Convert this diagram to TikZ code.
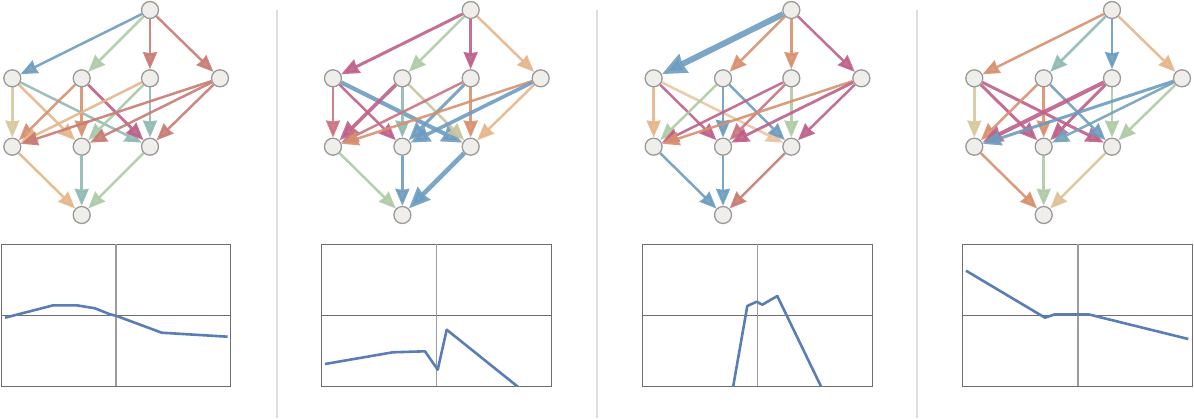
\documentclass[tikz,border=0pt]{standalone}
\usetikzlibrary{arrows.meta,backgrounds}
\definecolor{cblue}{HTML}{6D9CC0}
\definecolor{cgreen}{HTML}{AECBA5}
\definecolor{cred}{HTML}{C97B74}
\definecolor{cmag}{HTML}{BE6089}
\definecolor{corange}{HTML}{D7906F}
\definecolor{cpeach}{HTML}{E6B58A}
\definecolor{ctan}{HTML}{D6C89E}
\definecolor{cteal}{HTML}{90BAB3}
\definecolor{ckhaki}{HTML}{C8C49C}
\definecolor{cpink}{HTML}{CA7380}
\definecolor{vfill}{HTML}{F0EEEA}
\definecolor{vline}{HTML}{9A9A9A}
\definecolor{frm}{HTML}{6E6E6E}
\definecolor{axv}{HTML}{9C9C9C}
\definecolor{crv}{HTML}{5A7DB5}
\definecolor{sep}{HTML}{DEDEDE}
\tikzset{
  vtx/.style={circle,draw=vline,fill=vfill,line width=1.3pt,minimum size=17pt,inner sep=0pt},
  ar/.style={line width=2.5pt,opacity=0.9,-{Stealth[length=12pt 2,width=10pt 1.6,inset=1pt]}},
  frame/.style={draw=frm,line width=1pt},
  crvs/.style={draw=crv,line width=2.6pt,line join=round},
}
\newcommand{\mkgraph}[2]{%
  \node[vtx] (#1T) at (#2+150,10) {};
  \node[vtx] (#1A1) at (#2+12.3,78.3) {};
  \node[vtx] (#1A2) at (#2+81.7,78.3) {};
  \node[vtx] (#1A3) at (#2+150,78.3) {};
  \node[vtx] (#1A4) at (#2+220,78.3) {};
  \node[vtx] (#1B1) at (#2+12.3,146.7) {};
  \node[vtx] (#1B2) at (#2+81.7,146.7) {};
  \node[vtx] (#1B3) at (#2+150,146.7) {};
  \node[vtx] (#1C) at (#2+81.7,215) {};
}
\newcommand{\mkplot}[4]{% left right midx curve
  \draw[frame] (#1,244.3) rectangle (#2,386);
  \draw[draw=frm,line width=1pt] (#1,315.3) -- (#2,315.3);
  \draw[draw=axv,line width=1.2pt] (#3,244.3) -- (#3,386);
  \begin{scope}
    \clip (#1,244.3) rectangle (#2,386);
    \draw[crvs] #4;
  \end{scope}
}
\begin{document}
\begin{tikzpicture}[x=1pt,y=-1pt]
\useasboundingbox (0,0) rectangle (1194,418);
% separators
\draw[sep,line width=2pt] (276.7,10) -- (276.7,418);
\draw[sep,line width=2pt] (597,10) -- (597,418);
\draw[sep,line width=2pt] (917,10) -- (917,418);

\mkgraph{a}{0}
\mkgraph{b}{320.67}
\mkgraph{c}{641.33}
\mkgraph{d}{962}

\begin{scope}[on background layer]
% panel 1
\draw[ar,cblue] (aT) -- (aA1);
\draw[ar,cgreen] (aT) -- (aA2);
\draw[ar,cred] (aT) -- (aA3);
\draw[ar,cred] (aT) -- (aA4);
\draw[ar,ctan] (aA1) -- (aB1);
\draw[ar,cpeach] (aA1) -- (aB2);
\draw[ar,cteal] (aA1) -- (aB3);
\draw[ar,corange] (aA2) -- (aB1);
\draw[ar,corange] (aA2) -- (aB2);
\draw[ar,cmag,line width=2.8pt] (aA2) -- (aB3);
\draw[ar,cpeach] (aA3) -- (aB1);
\draw[ar,cgreen!80!cteal] (aA3) -- (aB2);
\draw[ar,cteal] (aA3) -- (aB3);
\draw[ar,cred] (aA4) -- (aB1);
\draw[ar,cred] (aA4) -- (aB2);
\draw[ar,cred] (aA4) -- (aB3);
\draw[ar,cpeach] (aB1) -- (aC);
\draw[ar,cteal] (aB2) -- (aC);
\draw[ar,cgreen] (aB3) -- (aC);
% panel 2
\draw[ar,cmag,line width=3pt] (bT) -- (bA1);
\draw[ar,cgreen] (bT) -- (bA2);
\draw[ar,cmag] (bT) -- (bA3);
\draw[ar,cpeach] (bT) -- (bA4);
\draw[ar,cpink] (bA1) -- (bB1);
\draw[ar,cmag] (bA1) -- (bB2);
\draw[ar,cblue,line width=4.2pt] (bA1) -- (bB3);
\draw[ar,cmag,line width=3.6pt] (bA2) -- (bB1);
\draw[ar,cteal] (bA2) -- (bB2);
\draw[ar,ckhaki] (bA2) -- (bB3);
\draw[ar,cpink] (bA3) -- (bB1);
\draw[ar,cblue,line width=3pt] (bA3) -- (bB2);
\draw[ar,corange] (bA3) -- (bB3);
\draw[ar,corange] (bA4) -- (bB1);
\draw[ar,cblue,line width=3.6pt] (bA4) -- (bB2);
\draw[ar,cpeach] (bA4) -- (bB3);
\draw[ar,cgreen] (bB1) -- (bC);
\draw[ar,cblue] (bB2) -- (bC);
\draw[ar,cblue,line width=4.6pt] (bB3) -- (bC);
% panel 3
\draw[ar,cblue,line width=6pt] (cT) -- (cA1);
\draw[ar,corange] (cT) -- (cA2);
\draw[ar,corange] (cT) -- (cA3);
\draw[ar,cmag] (cT) -- (cA4);
\draw[ar,cpeach] (cA1) -- (cB1);
\draw[ar,cmag] (cA1) -- (cB2);
\draw[ar,cpeach!80!white] (cA1) -- (cB3);
\draw[ar,cgreen] (cA2) -- (cB1);
\draw[ar,cblue,line width=2.8pt] (cA2) -- (cB2);
\draw[ar,cblue] (cA2) -- (cB3);
\draw[ar,cmag] (cA3) -- (cB1);
\draw[ar,cpink] (cA3) -- (cB2);
\draw[ar,cgreen] (cA3) -- (cB3);
\draw[ar,corange] (cA4) -- (cB1);
\draw[ar,cmag,line width=2.8pt] (cA4) -- (cB2);
\draw[ar,cmag] (cA4) -- (cB3);
\draw[ar,cblue] (cB1) -- (cC);
\draw[ar,cblue] (cB2) -- (cC);
\draw[ar,cred] (cB3) -- (cC);
% panel 4
\draw[ar,corange] (dT) -- (dA1);
\draw[ar,cteal] (dT) -- (dA2);
\draw[ar,cblue] (dT) -- (dA3);
\draw[ar,cpeach] (dT) -- (dA4);
\draw[ar,ctan] (dA1) -- (dB1);
\draw[ar,cmag,line width=3pt] (dA1) -- (dB2);
\draw[ar,cmag,line width=3pt] (dA1) -- (dB3);
\draw[ar,corange] (dA2) -- (dB1);
\draw[ar,corange] (dA2) -- (dB2);
\draw[ar,cblue] (dA2) -- (dB3);
\draw[ar,cmag,line width=4pt] (dA3) -- (dB1);
\draw[ar,cmag,line width=3pt] (dA3) -- (dB2);
\draw[ar,cgreen] (dA3) -- (dB3);
\draw[ar,cblue,line width=3pt] (dA4) -- (dB1);
\draw[ar,cblue!80!cteal] (dA4) -- (dB2);
\draw[ar,cgreen] (dA4) -- (dB3);
\draw[ar,corange] (dB1) -- (dC);
\draw[ar,cgreen] (dB2) -- (dC);
\draw[ar,ctan!70!cpeach] (dB3) -- (dC);
\end{scope}

% plots
\mkplot{1.7}{230.7}{116}{(5,317.7) -- (53.3,305.3) -- (76.7,305.3) -- (95,308.3) -- (110,314.3) -- (116.7,316) -- (161.7,332.7) -- (227.7,336.7)}
\mkplot{321.7}{551}{436.7}{(325,364) -- (392.7,352.3) -- (425,351.3) -- (437.7,369.7) -- (446.7,329.7) -- (520,388.5)}
\mkplot{642.3}{872}{757.3}{(732.8,388.5) -- (747.3,306) -- (756.7,301.7) -- (762.3,304.7) -- (777.3,296) -- (822,388.5)}
\mkplot{962.7}{1192.3}{1078}{(966,270.7) -- (1045,317.7) -- (1055,314.3) -- (1088.3,314.3) -- (1188.3,339)}
\end{tikzpicture}
\end{document}
